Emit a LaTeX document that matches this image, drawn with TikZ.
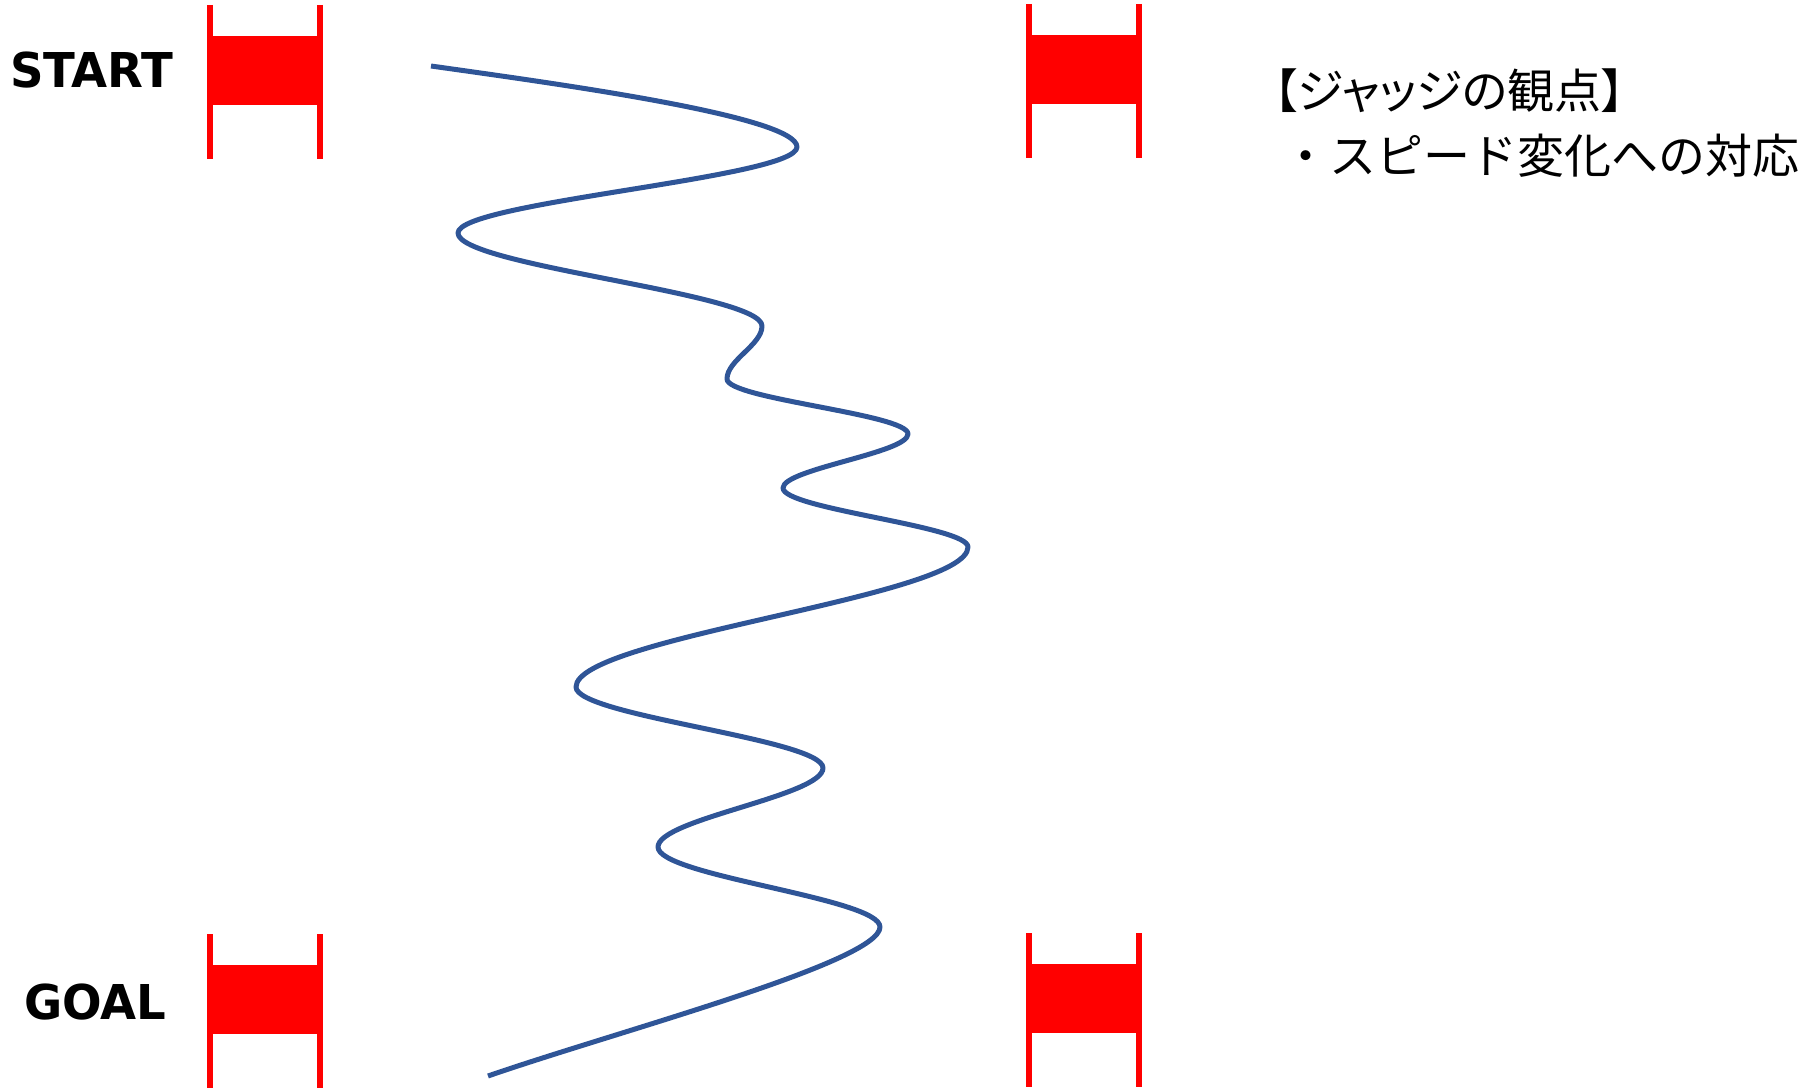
\documentclass[tikz,border=0pt]{standalone}
\usepackage{fontspec}
\setmainfont{DejaVu Sans}
\newfontfamily\signfont{DejaVu Sans}[FakeStretch=0.97]
\newfontfamily\jpfont{Noto Sans CJK JP}
\usepackage{tikz}
\usetikzlibrary{positioning}

\tikzset{
  gatebar/.style={gatered, line width=6pt},
  gatefill/.style={fill=gatered},
  runline/.style={runblue, line width=5pt, line join=round},
  signtext/.style={font=\signfont\bfseries\fontsize{48}{48}\selectfont, inner sep=0pt},
  judgetext/.style={font=\jpfont\fontsize{47}{64}\selectfont, inner sep=0pt}
}

\begin{document}
\begin{tikzpicture}[x=1pt, y=-1pt]
    \definecolor{gatered}{HTML}{FF0000}
    \definecolor{runblue}{HTML}{2F5597}
    \useasboundingbox (0,0) rectangle (1816,1089);

    % =================== gates ===================
    \pgfmathsetmacro{\gW}{110}   % bar to bar
    \pgfmathsetmacro{\gH}{154}   % bar length
    \foreach \gx/\gy in {210/5, 1029/4, 210/934, 1029/933}{
      \begin{scope}[shift={(\gx,\gy)}]
        \fill[gatefill] (-3,31) rectangle (\gW+3,100);
        \draw[gatebar] (0,0) -- (0,\gH);
        \draw[gatebar] (\gW,0) -- (\gW,\gH);
      \end{scope}
    }

    % =================== labels ===================
    \node[signtext, anchor=base west] (start) at (10,88) {START};
    \node[signtext, anchor=base west] (goal) at (24,1019) {GOAL};

    \node[judgetext, anchor=base west] (judgetitle) at (1274,109)
      {\addfontfeature{RawFeature=+palt}【ジャッジの観点】};
    \node[judgetext, anchor=base west] (judgeitem) at (1282,174) {・スピード変化への対応};

    % =================== run line ===================
    % one curve piece from turn to turn, upright at every turn
    \draw[runline] (431,66)
      .. controls +(120,17) and +(0,-31) .. (797,147)
      .. controls +(0,31) and +(0,-31) .. (458,233)
      .. controls +(0,33) and +(0,-33) .. (762,326)
      .. controls +(0,19) and +(0,-19) .. (727,379)
      .. controls +(0,20) and +(0,-20) .. (908,434)
      .. controls +(0,19) and +(0,-19) .. (783,488)
      .. controls +(0,21) and +(0,-21) .. (968,547)
      .. controls +(0,50) and +(0,-50) .. (576,687)
      .. controls +(0,29) and +(0,-29) .. (823,768)
      .. controls +(0,28) and +(0,-28) .. (658,847)
      .. controls +(0,29) and +(0,-29) .. (880,927)
      .. controls +(0,35) and +(130,-45) .. (488,1076);
\end{tikzpicture}
\end{document}
